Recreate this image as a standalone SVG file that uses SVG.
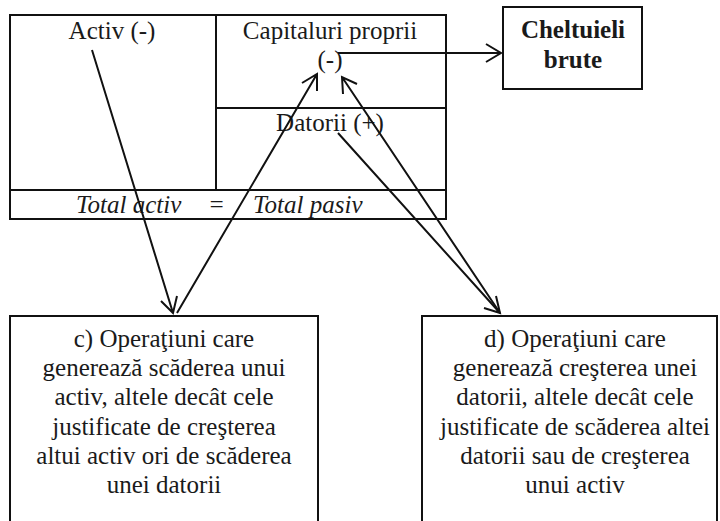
<svg xmlns="http://www.w3.org/2000/svg" width="720" height="521" viewBox="0 0 720 521">
<style>
.t{font-family:'Liberation Serif',serif;font-size:25px;fill:#1a1a1a;text-anchor:middle}
.b{font-weight:bold}
.i{font-style:italic;text-anchor:start}
.box{fill:#fff;stroke:#111;stroke-width:2}
.ln{stroke:#111;stroke-width:2;fill:none}
</style>
<rect width="720" height="521" fill="#fff"/>
<g id="bilant">
<rect class="box" x="10" y="15" width="436" height="204"/>
<line class="ln" x1="216" y1="15" x2="216" y2="190"/>
<line class="ln" x1="216" y1="108" x2="446" y2="108"/>
<line class="ln" x1="10" y1="190" x2="446" y2="190"/>
<text class="t" x="112" y="39">Activ (-)</text>
<text class="t" x="330" y="39">Capitaluri proprii</text>
<text class="t" x="330" y="68">(-)</text>
<text class="t" x="330" y="131">Datorii (+)</text>
<text class="t i" y="213"><tspan x="76">Total activ</tspan><tspan x="208">=</tspan><tspan x="253">Total pasiv</tspan></text>
</g>
<g id="cheltuieli">
<rect class="box" x="503" y="7" width="139" height="82"/>
<text class="t b" x="573" y="38">Cheltuieli</text>
<text class="t b" x="573" y="68">brute</text>
</g>
<g id="op-c">
<rect class="box" x="10" y="316" width="308" height="230"/>
<text class="t" x="164" y="347">c) Operaţiuni care</text>
<text class="t" x="164" y="376">generează scăderea unui</text>
<text class="t" x="164" y="405">activ, altele decât cele</text>
<text class="t" x="164" y="435">justificate de creşterea</text>
<text class="t" x="164" y="464">altui activ ori de scăderea</text>
<text class="t" x="164" y="493">unei datorii</text>
</g>
<g id="op-d">
<rect class="box" x="422" y="316" width="295" height="230"/>
<text class="t" x="575" y="347">d) Operaţiuni care</text>
<text class="t" x="575" y="376">generează creşterea unei</text>
<text class="t" x="575" y="405">datorii, altele decât cele</text>
<text class="t" x="575" y="435">justificate de scăderea altei</text>
<text class="t" x="575" y="464">datorii sau de creşterea</text>
<text class="t" x="575" y="493">unui activ</text>
</g>
<g id="connectors" class="ln">
<path d="M92,50 L173,313 M161,301 L173,313 L177,296"/>
<path d="M177,313 L317,74 M302,83 L317,74 L317,91"/>
<path d="M338,133 L500,313 M484,308 L500,313 L496,296"/>
<path d="M500,313 L342,77 M357,84 L342,77 L343,94"/>
<path d="M338,53 L501,53 M486,44 L501,53 L486,62"/>
</g>
</svg>
